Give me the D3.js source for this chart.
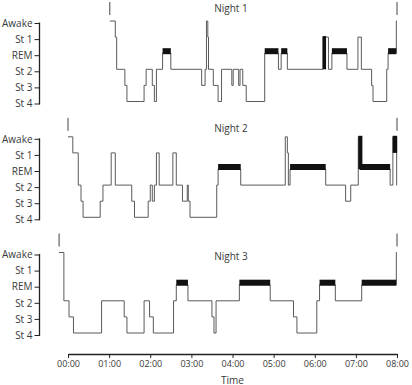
<!DOCTYPE html>
<html><head><meta charset="utf-8">
<script src="https://cdn.jsdelivr.net/npm/d3@7"></script>
<style>
body{margin:0;background:#fff;}
text{font-family:"Open Sans",sans-serif;fill:#3a3a3a;}
</style></head>
<body><svg id="c" width="412" height="385"></svg>
<script>
// ---- data ----
const stages = ["Awake", "St 1", "REM", "St 2", "St 3", "St 4"];
const nightNames = ["Night 1", "Night 2", "Night 3"];
const timeTicks = [0, 60, 120, 180, 240, 300, 360, 420, 480]; // minutes after 00:00
const timeLabels = ["00:00","01:00","02:00","03:00","04:00","05:00","06:00","07:00","08:00"];

// [start minute, stage]; last entry ends at the night's end time
const night1 = [[61,"Awake"],[69,"St 1"],[71,"St 2"],[83,"St 3"],[86,"St 4"],[111,"St 3"],[114,"St 2"],
  [123,"St 3"],[126,"St 4"],[129,"St 2"],[138,"REM"],[150,"St 2"],[195,"St 3"],[200,"St 2"],[202,"Awake"],
  [204,"St 1"],[205,"St 2"],[212,"St 3"],[219,"St 4"],[224,"St 2"],[239,"St 3"],[241,"St 2"],[249,"St 3"],
  [251,"St 2"],[255,"St 3"],[260,"St 4"],[287,"REM"],[307,"St 2"],[311,"REM"],[320,"St 2"],[372,"St 1"],
  [380,"St 2"],[385,"REM"],[407,"St 2"],[423,"St 1"],[428,"St 2"],[443,"St 3"],[445,"St 4"],[465,"St 2"],
  [467,"REM"],[479,"Awake"]];
const night2 = [[0,"Awake"],[7,"St 1"],[15,"St 2"],[19,"St 3"],[22,"St 4"],[47,"St 3"],[51,"St 2"],
  [63,"St 1"],[69,"St 2"],[93,"St 3"],[97,"St 4"],[117,"St 3"],[120,"St 2"],[123,"St 3"],[126,"St 2"],
  [129,"St 1"],[133,"St 2"],[153,"St 1"],[158,"St 2"],[167,"St 3"],[174,"St 2"],[175.5,"St 3"],[178,"St 4"],
  [217,"St 2"],[219,"REM"],[252,"St 2"],[317,"Awake"],[320,"St 1"],[321.5,"St 2"],[324,"REM"],[376,"St 2"],
  [405,"St 3"],[412.5,"St 2"],[423.5,"Awake"],[425.5,"REM"],[470,"St 2"],[474,"Awake"],[479.5,"St 2"]];
const night3 = [[-13,"Awake"],[-6,"St 2"],[1.5,"St 3"],[8,"St 4"],[49,"St 2"],[82,"St 3"],[86,"St 4"],
  [111,"St 2"],[119,"St 3"],[124.5,"St 4"],[154,"St 2"],[158,"REM"],[175,"St 2"],[210,"St 3"],[213,"St 4"],
  [216,"St 2"],[250,"REM"],[295,"St 2"],[329,"St 3"],[334,"St 4"],[363,"St 2"],[367,"REM"],[390,"St 2"],
  [428.5,"REM"],[479,"Awake"]];
const nightEnds = [480, 480, 480];
// dense transition bars: [start, end, upper stage, lower stage]
const bars1 = [[371.5, 376.5, "St 1", "St 2"]];
const bars2 = [[423.5, 429.5, "Awake", "REM"], [473.7, 480.2, "Awake", "St 1"]];
const bars3 = [];

const nights = [night1, night2, night3];
const bars = [bars1, bars2, bars3];

// ---- layout ----
const svg = d3.select("#c");
const x = d3.scaleLinear().domain([0, 480]).range([68, 397]);
const panelTops = [21, 136.8, 252.5];
const titleY = [8, 128, 256];
const step = 16.1;

nights.forEach((data, i) => {
  const top = panelTops[i];
  const y = d3.scalePoint().domain(stages).range([top, top + step * 5]);
  const g = svg.append("g");

  // y axis
  const ax = g.append("g").attr("transform", "translate(39.5,2)")
    .call(d3.axisLeft(y).tickSize(5).tickSizeOuter(0).tickPadding(2));
  ax.select(".domain").attr("d", `M0,${y("Awake") - 0.5}V${y("St 4") + 1}`).attr("stroke", "#222").attr("stroke-width", 1.3);
  ax.selectAll(".tick line").attr("stroke", "#222").attr("stroke-width", 1);
  ax.selectAll(".tick text").style("font-size", "10px").attr("fill", "#3a3a3a").style("font-family", "'Open Sans',sans-serif");

  // title
  g.append("text").attr("x", 231).attr("y", titleY[i]).attr("dy", "0.35em")
    .attr("text-anchor", "middle").style("font-size", "10px").text(nightNames[i]);

  // step path
  const end = nightEnds[i];
  const pts = [];
  data.forEach((d, k) => {
    const t1 = k < data.length - 1 ? data[k + 1][0] : end;
    pts.push([x(d[0]), y(d[1])], [x(t1), y(d[1])]);
  });
  g.append("path").attr("d", d3.line()(pts)).attr("fill", "none")
    .attr("stroke", "#5a5a5a").attr("stroke-width", 1);

  // REM bars
  data.forEach((d, k) => {
    if (d[1] !== "REM") return;
    const t1 = k < data.length - 1 ? data[k + 1][0] : end;
    g.append("rect").attr("x", x(d[0])).attr("width", x(t1) - x(d[0]))
      .attr("y", y("REM") - 5).attr("height", 6).attr("fill", "#111");
  });
  // transition bars
  bars[i].forEach(b => {
    g.append("rect").attr("x", x(b[0])).attr("width", x(b[1]) - x(b[0]))
      .attr("y", y(b[2]) - 1).attr("height", y(b[3]) - y(b[2]) + 1).attr("fill", "#111");
  });

  // lights off / on markers
  [data[0][0], end].forEach(t => {
    g.append("line").attr("x1", x(t)).attr("x2", x(t))
      .attr("y1", top - 19).attr("y2", top - 6).attr("stroke", "#444").attr("stroke-width", 1);
  });
});

// x axis
const xa = svg.append("g").attr("transform", "translate(0,354)")
  .call(d3.axisBottom(x).tickValues(timeTicks).tickFormat((d, k) => timeLabels[k]).tickSize(4).tickSizeOuter(0).tickPadding(3));
xa.select(".domain").attr("stroke", "#222").attr("stroke-width", 1.5);
xa.selectAll(".tick line").attr("stroke", "#222");
xa.selectAll(".tick text").style("font-size", "9px").attr("fill", "#3a3a3a").style("font-family", "'Open Sans',sans-serif");
svg.append("text").attr("x", 232.5).attr("y", 380).attr("dy", "0.35em").attr("text-anchor", "middle")
  .style("font-size", "10px").text("Time");
</script></body></html>
